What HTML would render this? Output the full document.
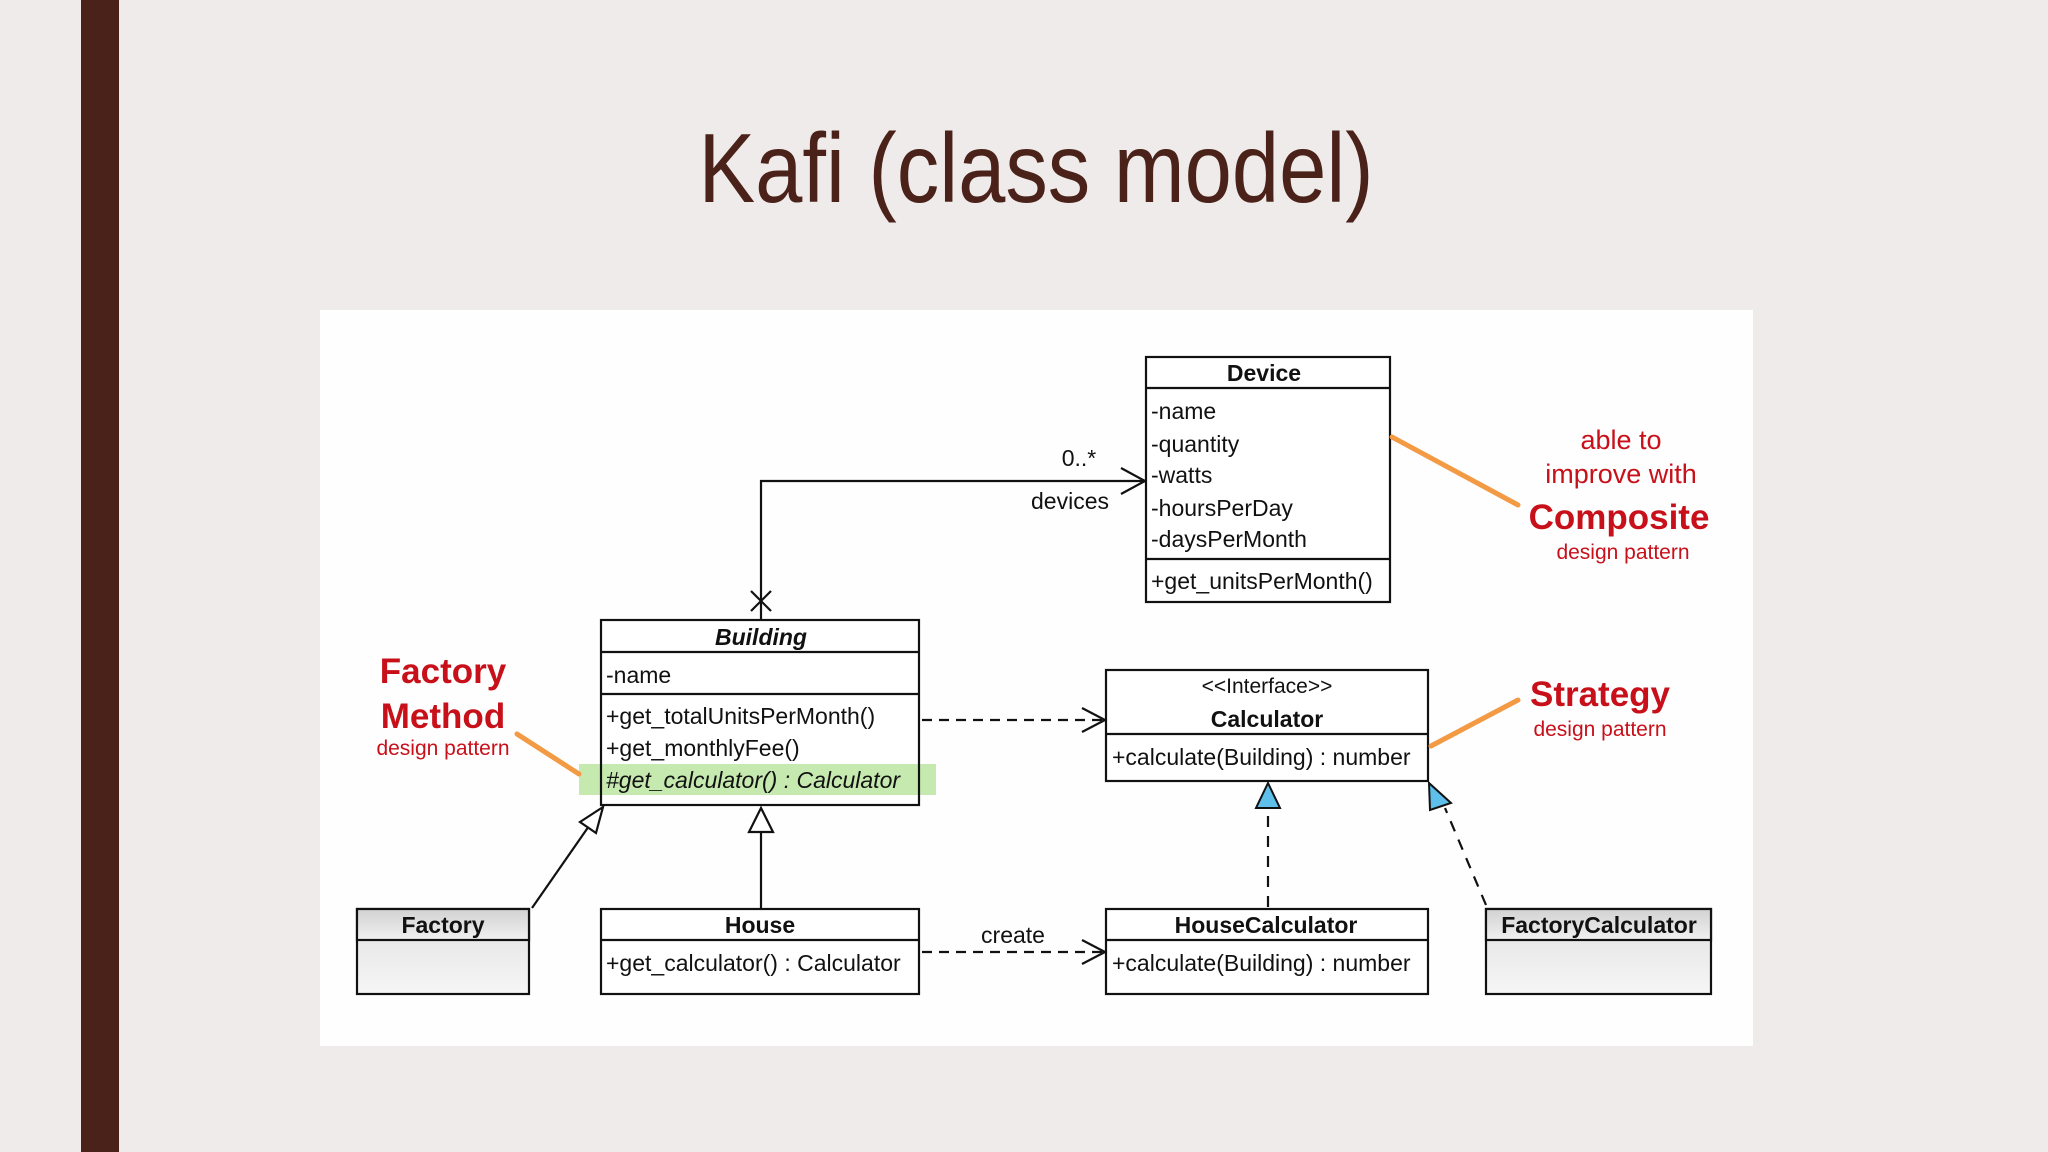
<!DOCTYPE html>
<html><head><meta charset="utf-8"><style>
html,body{margin:0;padding:0;background:#efebea;}
svg{display:block;}
text{font-family:"Liberation Sans",Arial,sans-serif;}
</style></head><body>
<svg width="2048" height="1152" viewBox="0 0 2048 1152" xmlns="http://www.w3.org/2000/svg">
<defs>
<linearGradient id="g" x1="0" y1="0" x2="0" y2="1"><stop offset="0" stop-color="#d2d2d2"/><stop offset="1" stop-color="#f0f0f0"/></linearGradient>
<linearGradient id="g2" x1="0" y1="0" x2="0" y2="1"><stop offset="0" stop-color="#e0e0e0"/><stop offset="1" stop-color="#f6f6f6"/></linearGradient>
</defs>
<rect width="2048" height="1152" fill="#efebea"/>
<rect x="81" y="0" width="38" height="1152" fill="#4a2219"/>
<text x="1036" y="202" font-size="98" fill="#4a2219" text-anchor="middle" textLength="675" lengthAdjust="spacingAndGlyphs">Kafi (class model)</text>
<rect x="320" y="310" width="1433" height="736" fill="#fefefe"/>

<g stroke="#111" stroke-width="2.2" fill="none">
<rect x="1146" y="357" width="244" height="245" fill="#fff"/>
<line x1="1146" y1="388" x2="1390" y2="388"/>
<line x1="1146" y1="559" x2="1390" y2="559"/>
<rect x="601" y="620" width="318" height="185" fill="#fff"/>
<line x1="601" y1="652" x2="919" y2="652"/>
<line x1="601" y1="694" x2="919" y2="694"/>
<rect x="1106" y="670" width="322" height="111" fill="#fff"/>
<line x1="1106" y1="734" x2="1428" y2="734"/>
<rect x="357" y="909" width="172" height="85" fill="url(#g2)"/>
<rect x="357" y="909" width="172" height="31" fill="url(#g)"/>
<rect x="601" y="909" width="318" height="85" fill="#fff"/>
<line x1="601" y1="940" x2="919" y2="940"/>
<rect x="1106" y="909" width="322" height="85" fill="#fff"/>
<line x1="1106" y1="940" x2="1428" y2="940"/>
<rect x="1486" y="909" width="225" height="85" fill="url(#g2)"/>
<rect x="1486" y="909" width="225" height="31" fill="url(#g)"/>
</g>
<rect x="579" y="764" width="357" height="31" fill="#c6e9b0"/>
<line x1="601" y1="764" x2="601" y2="795" stroke="#111" stroke-width="2.2"/>
<line x1="919" y1="764" x2="919" y2="795" stroke="#111" stroke-width="2.2"/>

<g stroke="#111" stroke-width="2.2" fill="none">
<polyline points="761,620 761,481 1145,481"/>
<polyline points="1121,468 1145,481 1121,494"/>
<line x1="751" y1="591" x2="771" y2="611"/>
<line x1="771" y1="591" x2="751" y2="611"/>
<line x1="922" y1="720" x2="1104" y2="720" stroke-dasharray="10,7"/>
<polyline points="1082,708 1105,720 1082,732"/>
<line x1="922" y1="952" x2="1104" y2="952" stroke-dasharray="10,7"/>
<polyline points="1082,940 1105,952 1082,964"/>
<line x1="761" y1="909" x2="761" y2="832"/>
<polygon points="761,808 749,832 773,832" fill="#fff"/>
<line x1="532" y1="908" x2="589" y2="826"/>
<polygon points="603,807 580,822 596,833" fill="#fff"/>
<line x1="1268" y1="907" x2="1268" y2="808" stroke-dasharray="11,9"/>
<line x1="1486" y1="905" x2="1445" y2="808" stroke-dasharray="11,9"/>
</g>
<polygon points="1268,783 1256,808 1280,808" fill="#5ec0ea" stroke="#111" stroke-width="2"/>
<polygon points="1429,783 1430,810 1451,803" fill="#5ec0ea" stroke="#111" stroke-width="2"/>

<g stroke="#f39a45" stroke-width="5" stroke-linecap="round">
<line x1="1392" y1="437" x2="1518" y2="505"/>
<line x1="1431" y1="746" x2="1518" y2="700"/>
<line x1="517" y1="734" x2="579" y2="774"/>
</g>

<g font-size="23" fill="#111">
<text x="1264" y="381" font-weight="bold" text-anchor="middle">Device</text>
<text x="1151" y="419">-name</text>
<text x="1151" y="452">-quantity</text>
<text x="1151" y="483">-watts</text>
<text x="1151" y="516">-hoursPerDay</text>
<text x="1151" y="547">-daysPerMonth</text>
<text x="1151" y="589">+get_unitsPerMonth()</text>
<text x="1079" y="466" text-anchor="middle">0..*</text>
<text x="1070" y="509" text-anchor="middle">devices</text>
<text x="761" y="645" font-weight="bold" font-style="italic" text-anchor="middle">Building</text>
<text x="606" y="683">-name</text>
<text x="606" y="724">+get_totalUnitsPerMonth()</text>
<text x="606" y="756">+get_monthlyFee()</text>
<text x="606" y="788" font-style="italic">#get_calculator() : Calculator</text>
<text x="1267" y="693" text-anchor="middle" font-size="21">&lt;&lt;Interface&gt;&gt;</text>
<text x="1267" y="727" font-weight="bold" text-anchor="middle">Calculator</text>
<text x="1112" y="765">+calculate(Building) : number</text>
<text x="443" y="933" font-weight="bold" text-anchor="middle">Factory</text>
<text x="760" y="933" font-weight="bold" text-anchor="middle">House</text>
<text x="606" y="971">+get_calculator() : Calculator</text>
<text x="1013" y="943" text-anchor="middle">create</text>
<text x="1266" y="933" font-weight="bold" text-anchor="middle">HouseCalculator</text>
<text x="1112" y="971">+calculate(Building) : number</text>
<text x="1599" y="933" font-weight="bold" text-anchor="middle">FactoryCalculator</text>
</g>

<g fill="#c8101a" text-anchor="middle">
<text x="1621" y="449" font-size="27">able to</text>
<text x="1621" y="483" font-size="27">improve with</text>
<text x="1619" y="529" font-size="35" font-weight="bold">Composite</text>
<text x="1623" y="559" font-size="21">design pattern</text>
<text x="1600" y="706" font-size="35" font-weight="bold">Strategy</text>
<text x="1600" y="736" font-size="21">design pattern</text>
<text x="443" y="683" font-size="35" font-weight="bold">Factory</text>
<text x="443" y="728" font-size="35" font-weight="bold">Method</text>
<text x="443" y="755" font-size="21">design pattern</text>
</g>
</svg>
</body></html>
